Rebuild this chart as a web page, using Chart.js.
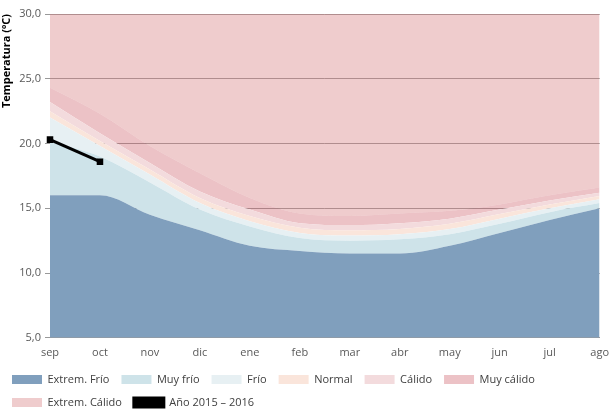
<!DOCTYPE html>
<html>
<head>
<meta charset="utf-8">
<script src="https://cdn.jsdelivr.net/npm/chart.js@4/dist/chart.umd.min.js"></script>
<style>
  html, body { margin: 0; padding: 0; background: #fff; overflow: hidden; }
  #wrap { width: 612px; height: 418px; }
</style>
</head>
<body>
<div id="wrap"><canvas id="grafico"></canvas></div>
<script>
// meses (sep 2015 - ago 2016)
const meses = ['sep', 'oct', 'nov', 'dic', 'ene', 'feb', 'mar', 'abr', 'may', 'jun', 'jul', 'ago']

// límite superior de cada banda (ºC)
const extremFrio   = [16.0, 16.0, 14.5, 13.3, 12.1, 11.7, 11.5, 11.5, 12.1, 13.1, 14.1, 15.0]
const muyFrio      = [20.2, 19.0, 17.0, 14.9, 13.6, 12.7, 12.5, 12.6, 13.0, 13.8, 14.7, 15.4]
const frio         = [22.0, 19.8, 17.6, 15.4, 14.0, 13.1, 12.9, 13.0, 13.4, 14.2, 15.0, 15.7]
const normal       = [22.5, 20.2, 18.0, 15.8, 14.4, 13.5, 13.3, 13.4, 13.8, 14.55, 15.3, 15.95]
const calido       = [23.2, 20.8, 18.5, 16.3, 14.9, 13.85, 13.7, 13.85, 14.2, 14.9, 15.6, 16.2]
const muyCalido    = [24.3, 22.3, 19.8, 17.7, 15.8, 14.6, 14.4, 14.6, 14.8, 15.3, 16.0, 16.6]
const extremCalido = [30, 30, 30, 30, 30, 30, 30, 30, 30, 30, 30, 30]

// año actual
const anio = [20.3, 18.6, null, null, null, null, null, null, null, null, null, null]

const ticksY = [5, 10, 15, 20, 25, 30]

//Crear banda rellena hasta la anterior
function banda(label, data, color, fill) {
	return {
		label: label,
		data: data,
		backgroundColor: color,
		borderColor: color,
		borderWidth: 0,
		pointRadius: 0,
		fill: fill,
		cubicInterpolationMode: 'monotone',
		order: 1
	}
}

const fuente = "'Open Sans', 'Liberation Sans', sans-serif"
Chart.defaults.font.family = fuente
Chart.defaults.color = '#595959'

const ctx = document.getElementById('grafico').getContext('2d')
new Chart(ctx, {
	type: 'line',
	data: {
		labels: meses,
		datasets: [
			banda('Extrem. Frío', extremFrio, 'rgb(128,159,189)', 'start'),
			banda('Muy frío', muyFrio, 'rgb(206,227,233)', '-1'),
			banda('Frío', frio, 'rgb(231,240,243)', '-1'),
			banda('Normal', normal, 'rgb(250,229,219)', '-1'),
			banda('Cálido', calido, 'rgb(243,219,221)', '-1'),
			banda('Muy cálido', muyCalido, 'rgba(212,120,128,0.45)', '-1'),
			banda('Extrem. Cálido', extremCalido, 'rgba(220,142,144,0.45)', '-1'),
			{
				label: 'Año 2015 – 2016',
				data: anio,
				borderColor: '#000',
				backgroundColor: '#000',
				borderWidth: 3,
				pointStyle: 'rect',
				pointRadius: 2.5,
				fill: false,
				tension: 0,
				order: 0
			}
		]
	},
	options: {
		responsive: true,
		maintainAspectRatio: false,
		animation: false,
		layout: { padding: { top: 14, right: 7, left: 0, bottom: 0 } },
		plugins: {
			tooltip: { enabled: false },
			legend: {
				position: 'bottom',
				align: 'start',
				labels: {
					boxWidth: 30,
					boxHeight: 9,
					padding: 12,
					font: { size: 11 },
					color: '#404040',
					sort: (a, b) => a.datasetIndex - b.datasetIndex
				}
			}
		},
		scales: {
			x: {
				offset: false,
				grid: { display: false, drawTicks: true, tickLength: 5, tickColor: '#999' },
				border: { color: '#999' },
				ticks: { font: { size: 11 }, padding: 3, maxRotation: 0 }
			},
			y: {
				min: 5,
				max: 30,
				afterBuildTicks: axis => { axis.ticks = ticksY.map(v => ({ value: v })) },
				afterFit: axis => { axis.width = 50 },
				grid: { color: '#8c8c8c', tickLength: 5, tickColor: '#999' },
				border: { display: false },
				ticks: {
					font: { size: 11 },
					padding: 4,
					callback: v => v.toFixed(1).replace('.', ',')
				},
				title: {
					display: true,
					text: 'Temperatura (ºC)',
					align: 'end',
					color: '#000',
					font: { size: 11, weight: 'bold' },
					padding: 0
				}
			}
		}
	}
})
</script>
</body>
</html>
